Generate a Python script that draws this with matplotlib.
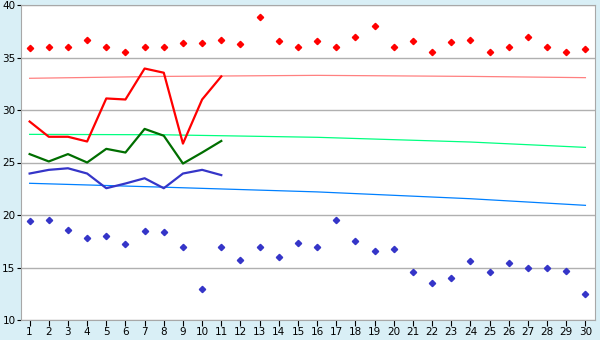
import numpy as np
import matplotlib.pyplot as plt

days = list(range(1, 31))

# daily extremes (diamonds)
max_pts = [35.9, 36.0, 36.0, 36.7, 36.0, 35.5, 36.0, 36.0, 36.35, 36.35,
           36.7, 36.25, 38.9, 36.55, 36.0, 36.55, 36.0, 37.0, 38.0, 36.0,
           36.55, 35.5, 36.45, 36.65, 35.5, 36.0, 36.95, 36.0, 35.5, 35.8]
min_pts = [19.4, 19.5, 18.55, 17.8, 18.0, 17.2, 18.45, 18.35, 17.0, 13.0,
           17.0, 15.7, 17.0, 16.0, 17.3, 17.0, 19.5, 17.5, 16.55, 16.75,
           14.55, 13.5, 14.0, 15.6, 14.55, 15.4, 15.0, 15.0, 14.65, 12.45]

# current month lines (days 1-11)
cur_days = list(range(1, 12))
cur_max = [28.9, 27.45, 27.45, 27.0, 31.1, 31.0, 33.95, 33.55, 26.8, 31.0, 33.2]
cur_avg = [25.8, 25.1, 25.8, 25.0, 26.3, 25.95, 28.2, 27.55, 24.9, 25.95, 27.05]
cur_min = [23.95, 24.3, 24.45, 23.95, 22.55, 23.0, 23.5, 22.55, 23.95, 24.3, 23.8]

# long-term normals
norm_days = [1, 8, 16, 24, 30]
norm_max = [33.02, 33.2, 33.3, 33.2, 33.08]
norm_avg = [27.68, 27.64, 27.4, 26.95, 26.44]
norm_min = [23.02, 22.65, 22.2, 21.55, 20.92]

bg = '#d9eff6'
fig = plt.figure(figsize=(6, 3.4), dpi=100, facecolor=bg)
ax = fig.add_axes([21 / 600, 20 / 340, 574 / 600, 315 / 340])
ax.set_facecolor('white')

ax.plot(norm_days, norm_max, color='#ff8080', lw=0.9)
ax.plot(norm_days, norm_avg, color='#00ff80', lw=0.9)
ax.plot(norm_days, norm_min, color='#0080ff', lw=0.9)

ax.plot(cur_days, cur_max, color='#ff0000', lw=1.6)
ax.plot(cur_days, cur_avg, color='#006e00', lw=1.6)
ax.plot(cur_days, cur_min, color='#3535c8', lw=1.6)

ax.plot(days, max_pts, 'D', color='#ff0000', ms=3.2, ls='none')
ax.plot(days, min_pts, 'D', color='#3535c8', ms=3.2, ls='none')

ax.set_xlim(0.55, 30.5)
ax.set_ylim(10, 40)
ax.set_xticks(days)
ax.set_yticks(range(10, 41, 5))
ax.yaxis.grid(True, color='#b0b0b0', lw=1)
ax.set_axisbelow(True)
for s in ax.spines.values():
    s.set_color('#a8a8a8')
ax.tick_params(axis='x', length=4, color='#000000', labelsize=7.5, pad=1, direction='out')
ax.tick_params(axis='y', length=3, color='#000000', labelsize=7.5, pad=1)

fig.savefig('out.png', dpi=100, facecolor=bg)
